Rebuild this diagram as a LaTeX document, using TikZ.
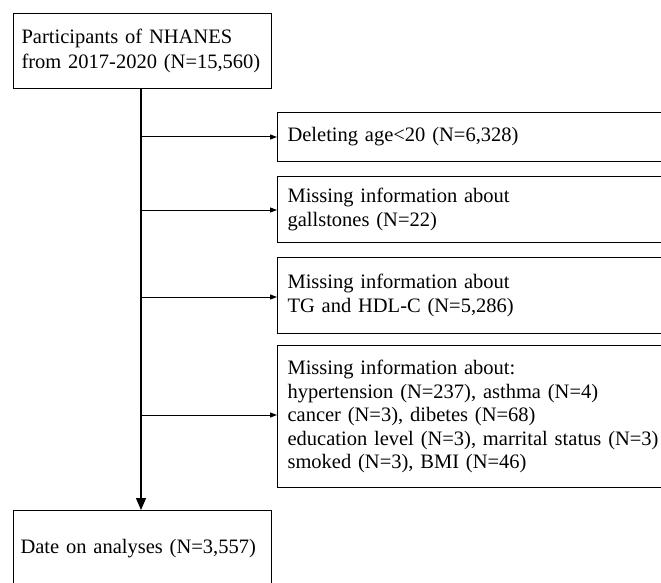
\documentclass[tikz,border=0pt]{standalone}
\usepackage{fontspec}
\setmainfont{Liberation Serif}
\usetikzlibrary{arrows.meta}
\begin{document}
\begin{tikzpicture}[x=1pt,y=-1pt,
  box/.style={draw, line width=1.1pt, anchor=north west, inner xsep=10pt, inner ysep=0pt,
    align=left, font=\fontsize{20.5}{24.5}\selectfont},
  side/.style={-{Triangle[width=5pt,length=7pt]}, line width=1pt},
  main/.style={-{Triangle[width=10pt,length=12pt]}, line width=1.2pt}]
\useasboundingbox (0,0) rectangle (661,583);
\clip (0,0) rectangle (661,583);
\node[box, minimum width=258, minimum height=75, text width=242, inner xsep=8pt] (top) at (13,13)
  {Participants of NHANES\\from 2017-2020 (N=15,560)};
\node[box, minimum width=258, minimum height=76, text width=244, inner xsep=7pt] (final) at (13,510)
  {Date on analyses (N=3,557)};
\node[box, minimum width=420, minimum height=49, text width=400] (b1) at (277,112)
  {Deleting age<20 (N=6,328)};
\node[box, minimum width=420, minimum height=66, text width=400] (b2) at (277,176)
  {Missing information about\\gallstones (N=22)};
\node[box, minimum width=420, minimum height=76, text width=400] (b3) at (277,257)
  {Missing information about\\TG and HDL-C (N=5,286)};
\node[box, minimum width=420, minimum height=142, text width=400, font=\fontsize{20.5}{23.5}\selectfont] (b4) at (277,345)
  {Missing information about:\\hypertension (N=237), asthma (N=4)\\cancer (N=3), dibetes (N=68)\\education level (N=3), marrital status (N=3)\\smoked (N=3), BMI (N=46)};
\draw[main] (141,88) coordinate (s) -- (141,510);
\coordinate (j1) at (141,137);
\coordinate (j2) at (141,210);
\coordinate (j3) at (141,297);
\coordinate (j4) at (141,415);
\draw[side] (j1) -- (b1.west |- j1);
\draw[side] (j2) -- (b2.west |- j2);
\draw[side] (j3) -- (b3.west |- j3);
\draw[side] (j4) -- (b4.west |- j4);
\end{tikzpicture}
\end{document}
